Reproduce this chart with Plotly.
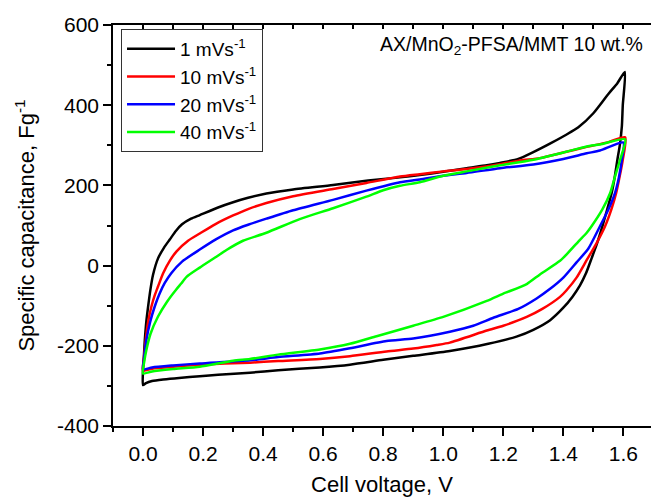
import plotly.graph_objects as go

# ---- data ----
labels = ["1 mVs<sup>-1</sup>", "10 mVs<sup>-1</sup>", "20 mVs<sup>-1</sup>", "40 mVs<sup>-1</sup>"]
colors = ["#000000", "#FF0000", "#0000FF", "#00FF00"]

v_1 = [0.0, 0.0, 0.003, 0.006, 0.011, 0.017, 0.025, 0.033, 0.05, 0.07, 0.089, 0.11, 0.13, 0.16, 0.189, 0.25,
       0.3, 0.35, 0.411, 0.5, 0.633, 0.75, 0.856, 0.922, 1.0, 1.078, 1.145, 1.189, 1.25, 1.3, 1.36, 1.411,
       1.45, 1.5, 1.55, 1.58, 1.605,
       1.598, 1.595, 1.588, 1.58, 1.571, 1.561, 1.546, 1.53, 1.512, 1.495, 1.475, 1.455, 1.43, 1.4, 1.356,
       1.3, 1.244, 1.15, 1.022, 0.9, 0.8, 0.689, 0.589, 0.45, 0.356, 0.25, 0.189, 0.12, 0.067, 0.03, 0.01, 0.0]
c_1 = [-298, -262, -225, -186, -140, -102, -58, -24, 18, 45, 65, 87, 103, 117, 126, 145,
       158, 169, 180, 190, 201, 212, 220, 226, 234, 243, 250, 256, 266, 283, 306, 327,
       345, 380, 428, 455, 483,
       400, 348, 300, 264, 220, 181, 140, 98, 55, 20, -20, -50, -78, -105, -136,
       -160, -177, -195, -213, -225, -235, -247, -254, -261, -267, -272, -276, -280, -284, -288, -293, -298]

v_10 = [0.0, 0.003, 0.009, 0.017, 0.028, 0.04, 0.05, 0.067, 0.09, 0.111, 0.15, 0.189, 0.24, 0.3, 0.35,
        0.411, 0.5, 0.633, 0.744, 0.856, 0.922, 1.0, 1.078, 1.189, 1.256, 1.322, 1.4, 1.478, 1.55, 1.606,
        1.598, 1.587, 1.576, 1.56, 1.539, 1.51, 1.478, 1.444, 1.41, 1.389, 1.33, 1.278, 1.2, 1.145, 1.022,
        0.978, 0.9, 0.811, 0.689, 0.589, 0.45, 0.356, 0.189, 0.1, 0.03, 0.0]
c_10 = [-262, -230, -186, -140, -102, -72, -52, -19, 13, 35, 62, 80, 103, 125, 141,
        156, 173, 191, 206, 222, 228, 235, 241, 253, 262, 268, 282, 296, 308, 320,
        264, 220, 181, 140, 98, 55, 14, -30, -62, -78, -108, -128, -150, -162, -192,
        -198, -207, -214, -226, -233, -238, -242, -247, -252, -257, -262]

v_20 = [0.0, 0.003, 0.011, 0.024, 0.039, 0.055, 0.072, 0.094, 0.13, 0.189, 0.244, 0.3, 0.35, 0.411, 0.5,
        0.633, 0.744, 0.856, 0.922, 1.0, 1.078, 1.189, 1.3, 1.4, 1.478, 1.522, 1.6,
        1.595, 1.585, 1.572, 1.55, 1.522, 1.483, 1.444, 1.4, 1.356, 1.311, 1.25, 1.167, 1.1, 1.022, 0.9,
        0.811, 0.689, 0.589, 0.45, 0.356, 0.189, 0.1, 0.03, 0.0]
c_20 = [-259, -235, -186, -140, -102, -70, -44, -19, 10, 40, 66, 88, 102, 117, 138,
        164, 187, 208, 215, 224, 231, 243, 252, 266, 280, 287, 307,
        264, 220, 181, 140, 98, 42, 8, -30, -58, -82, -108, -130, -150, -165, -182,
        -188, -206, -219, -228, -236, -244, -249, -254, -259]

v_40 = [0.0, 0.004, 0.011, 0.025, 0.05, 0.08, 0.11, 0.128, 0.145, 0.189, 0.24, 0.278, 0.333, 0.411, 0.522,
        0.633, 0.744, 0.8, 0.856, 0.922, 1.0, 1.078, 1.189, 1.3, 1.4, 1.478, 1.522, 1.606,
        1.589, 1.572, 1.556, 1.53, 1.494, 1.478, 1.45, 1.411, 1.389, 1.322, 1.278, 1.2, 1.145, 1.0, 0.9,
        0.778, 0.689, 0.589, 0.45, 0.356, 0.3, 0.189, 0.1, 0.03, 0.0]
c_40 = [-269, -240, -211, -170, -127, -90, -60, -44, -28, -5, 20, 39, 62, 82, 116,
        143, 172, 188, 199, 208, 224, 235, 250, 264, 282, 297, 302, 315,
        264, 222, 181, 140, 98, 82, 60, 28, 12, -22, -46, -70, -88, -128, -150,
        -176, -195, -209, -222, -233, -237, -252, -258, -264, -269]

voltages = [v_1, v_10, v_20, v_40]
caps = [c_1, c_10, c_20, c_40]

x_ticks = [0.0, 0.2, 0.4, 0.6, 0.8, 1.0, 1.2, 1.4, 1.6]
y_ticks = [-400, -200, 0, 200, 400, 600]

FONT = "Liberation Sans, Arial, sans-serif"

fig = go.Figure()
for v, c, name, col in zip(voltages, caps, labels, colors):
    fig.add_trace(go.Scatter(x=v, y=c, mode="lines", name=name,
                             line=dict(color=col, width=2.5, shape="spline", smoothing=0.6)))

# dummy trace so the top (mirrored, inward-tick) axis is drawn
fig.add_trace(go.Scatter(x=[None], y=[None], xaxis="x2", showlegend=False, hoverinfo="skip"))

axis_common = dict(showline=True, linecolor="black", linewidth=1.5, showgrid=False, zeroline=False,
                   automargin=False,
                   tickcolor="black", tickwidth=1.5, tickfont=dict(family=FONT, size=21, color="black"))

fig.update_layout(
    width=651, height=497,
    margin=dict(l=113, r=0, t=25, b=71),
    paper_bgcolor="white", plot_bgcolor="white",
    font=dict(family=FONT, size=19, color="black"),
    showlegend=True,
    legend=dict(x=0.0149, y=0.99, xanchor="left", yanchor="top",
                bordercolor="#333333", borderwidth=1, bgcolor="white",
                font=dict(family=FONT, size=19, color="black"),
                itemwidth=48, tracegroupgap=0),
    xaxis=dict(range=[-0.1, 1.692], tickmode="array", tickvals=x_ticks,
               ticktext=[f"{t:.1f}" for t in x_ticks], ticks="outside", ticklen=8,
               minor=dict(dtick=0.1, tick0=0, ticks="outside", ticklen=4, tickcolor="black", tickwidth=1.5),
               title=dict(text="Cell voltage, V", font=dict(family=FONT, size=22), standoff=14),
               **axis_common),
    xaxis2=dict(overlaying="x", side="top", matches="x", showticklabels=False,
                tickmode="array", tickvals=x_ticks, ticks="inside", ticklen=4,
                minor=dict(dtick=0.1, tick0=0, ticks="inside", ticklen=4, tickcolor="black", tickwidth=1.5),
                **axis_common),
    yaxis=dict(range=[-400, 600], tickmode="array", tickvals=y_ticks,
               ticktext=[str(t) for t in y_ticks], ticks="outside", ticklen=8,
               minor=dict(dtick=100, tick0=0, ticks="outside", ticklen=4, tickcolor="black", tickwidth=1.5),
               title=dict(text="Specific capacitance, Fg<sup>-1</sup>", font=dict(family=FONT, size=22), standoff=16),
               **axis_common),
    annotations=[dict(text="AX/MnO<sub>2</sub>-PFSA/MMT 10 wt.%", xref="paper", yref="paper",
                      x=0.9888, y=0.985, xanchor="right", yanchor="top", showarrow=False,
                      font=dict(family=FONT, size=19.5, color="black"))],
)

fig.write_html("out.html")
